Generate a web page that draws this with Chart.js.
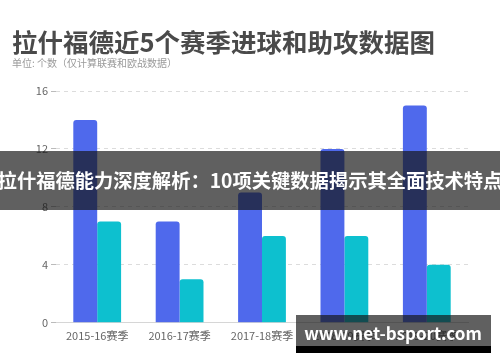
<!DOCTYPE html>
<html>
<head>
<meta charset="utf-8">
<script src="https://cdn.jsdelivr.net/npm/chart.js@4.4.1/dist/chart.umd.min.js"></script>
<style>
  html, body { margin: 0; padding: 0; background: #fff; }
  #wrap { width: 500px; height: 362px; position: relative; }
</style>
</head>
<body>
<div id="wrap"><canvas id="c" width="500" height="362"></canvas></div>
<script>
// Seasons and per-season totals (league + European games)
const seasons = ['2015-16赛季', '2016-17赛季', '2017-18赛季', '2018-19赛季', '2019-20赛季'];
const goals = [14, 7, 9, 12, 15];
const assists = [7, 3, 6, 6, 4];
const yTicks = [0, 4, 8, 12, 16];

const titleText = '拉什福德近5个赛季进球和助攻数据图';
const subtitleText = '单位: 个数（仅计算联赛和欧战数据）';
const bannerText = '拉什福德能力深度解析：10项关键数据揭示其全面技术特点';
const siteText = 'www.net-bsport.com';

const CJK = '"Noto Sans CJK SC", "Noto Sans", sans-serif';

// Heading above the plot
const headingPlugin = {
  id: 'heading',
  beforeDraw: (chart) => {
    const { ctx } = chart;
    ctx.save();
    ctx.textBaseline = 'middle';
    ctx.textAlign = 'left';
    ctx.fillStyle = '#4a4a4a';
    ctx.font = `bold 25.5px ${CJK}`;
    ctx.fillText(titleText, 12, 42);
    ctx.fillStyle = '#9a9a9a';
    ctx.font = `10px ${CJK}`;
    ctx.fillText(subtitleText, 12, 63);
    ctx.restore();
  }
};

// Overlays drawn over the finished chart: caption band and site stamp
const overlayPlugin = {
  id: 'overlay',
  afterDraw: (chart) => {
    const { ctx, width } = chart;
    ctx.save();
    ctx.fillStyle = 'rgba(20, 20, 20, 0.68)';
    ctx.fillRect(0, 151, width, 59);
    ctx.fillStyle = '#ffffff';
    ctx.font = `bold 19.3px ${CJK}`;
    ctx.textAlign = 'center';
    ctx.textBaseline = 'middle';
    ctx.fillText(bannerText, width / 2, 181);

    ctx.fillStyle = 'rgba(20, 20, 20, 0.68)';
    ctx.fillRect(296, 315, 195, 31);
    ctx.fillStyle = '#000000';
    ctx.fillRect(296, 346, 195, 7);
    ctx.fillStyle = '#ffffff';
    ctx.font = `bold 17px ${CJK}`;
    ctx.fillText(siteText, 393, 334);
    ctx.restore();
  }
};

new Chart(document.getElementById('c').getContext('2d'), {
  type: 'bar',
  data: {
    labels: seasons,
    datasets: [
      { label: '进球', data: goals, backgroundColor: '#4f69ec', borderRadius: { topLeft: 3, topRight: 3 }, borderSkipped: 'bottom' },
      { label: '助攻', data: assists, backgroundColor: '#0dc0cf', borderRadius: { topLeft: 3, topRight: 3 }, borderSkipped: 'bottom' }
    ]
  },
  options: {
    responsive: false,
    animation: false,
    layout: { padding: { top: 91, right: 32, bottom: 14, left: 0 } },
    datasets: { bar: { barPercentage: 1, categoryPercentage: 0.58 } },
    plugins: { legend: { display: false }, tooltip: { enabled: false } },
    scales: {
      x: {
        grid: { display: false, drawTicks: false },
        border: { color: '#d6d6d6' },
        ticks: { color: '#666', font: { family: CJK, size: 11 }, padding: 6 }
      },
      y: {
        min: 0,
        max: 16,
        afterFit: (scale) => { scale.width = 56; },
        afterBuildTicks: (scale) => { scale.ticks = yTicks.map(v => ({ value: v })); },
        grid: { color: '#dcdcdc', tickColor: '#bbbbbb', tickLength: 5, drawOnChartArea: true },
        border: { display: false, dash: [4, 4] },
        ticks: { color: '#666', font: { family: CJK, size: 11 }, padding: 3 }
      }
    }
  },
  plugins: [headingPlugin, overlayPlugin]
});
</script>
</body>
</html>
